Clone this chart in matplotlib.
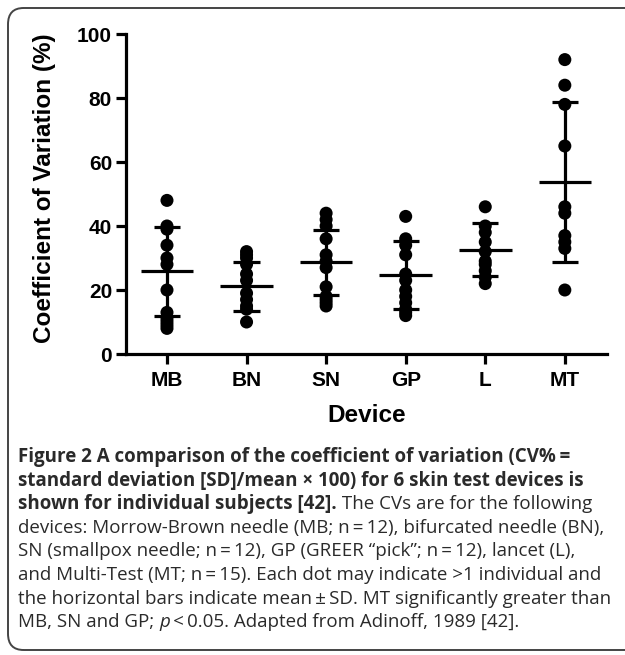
"""Coefficient of variation per skin test device (dot plot with mean +/- SD) plus figure caption."""
import numpy as np
import matplotlib
matplotlib.use("Agg")
import matplotlib.pyplot as plt
from matplotlib.patches import FancyBboxPatch

W, H = 625, 655
DEVICES = ["MB", "BN", "SN", "GP", "L", "MT"]
CV_MB = [48, 40, 39, 34, 30, 28, 20, 13, 11, 10, 9, 8]
CV_BN = [32, 31, 30, 28, 25, 23, 19, 17, 15, 14, 10]
CV_SN = [44, 42, 40, 36, 31, 29, 27, 21, 18, 17, 16, 15]
CV_GP = [43, 36, 34, 31, 25, 23, 20, 18, 16, 14, 13, 12]
CV_L = [46, 40, 38, 35, 32, 29, 28, 26, 24, 22]
CV_MT = [92, 84, 78, 65, 46, 44, 37, 35, 33, 20]
MEANS = [25.8, 21.1, 28.6, 24.6, 32.6, 53.6]
SDS = [13.9, 7.6, 10.3, 10.6, 8.3, 25.0]
YTICKS = [0, 20, 40, 60, 80, 100]

B, N, I = "bold", "normal", "italic"
CAPTION = [
    [("Figure 2 A comparison of the coefficient of variation (CV%\u2009=", B)],
    [("standard deviation [SD]/mean \u00d7 100) for 6 skin test devices is", B)],
    [("shown for individual subjects [42].", B), (" The CVs are for the following", N)],
    [("devices: Morrow-Brown needle (MB; n\u2009=\u200912), bifurcated needle (BN),", N)],
    [("SN (smallpox needle; n\u2009=\u200912), GP (GREER \u201cpick\u201d; n\u2009=\u200912), lancet (L),", N)],
    [("and Multi-Test (MT; n\u2009=\u200915). Each dot may indicate >1 individual and", N)],
    [("the horizontal bars indicate mean\u2009\u00b1\u2009SD. MT significantly greater than", N)],
    [("MB, SN and GP; ", N), ("p", I), ("\u2009<\u20090.05. Adapted from Adinoff, 1989 [42].", N)],
]

INK = "#000000"
CAP_INK = "#2a2a2a"
CAP_FONT = ["Open Sans", "DejaVu Sans"]
LW = 2.3

fig = plt.figure(figsize=(W / 100, H / 100), dpi=100)
fig.patch.set_facecolor("white")

box = FancyBboxPatch((8 / W, 5 / H), 640 / W, 642 / H, boxstyle="round,pad=0,rounding_size=0.025",
                     transform=fig.transFigure, facecolor="none", edgecolor="#444444", lw=1.4)
fig.patches.append(box)

ax = fig.add_axes([126 / W, (H - 354) / H, 481 / W, 320 / H])
series = [CV_MB, CV_BN, CV_SN, CV_GP, CV_L, CV_MT]
for i, vals in enumerate(series):
    m, sd = MEANS[i], SDS[i]
    ax.plot([i, i], [m - sd, m + sd], color=INK, lw=LW, zorder=2, solid_capstyle="butt")
    ax.plot([i - 0.33, i + 0.33], [m, m], color=INK, lw=LW, zorder=4, solid_capstyle="butt")
    for e in (m - sd, m + sd):
        ax.plot([i - 0.165, i + 0.165], [e, e], color=INK, lw=LW, zorder=4, solid_capstyle="butt")
    ax.scatter(np.full(len(vals), i), vals, s=88, color=INK, edgecolors="none", zorder=3)

ax.set_xlim(-0.515, 5.53)
ax.set_ylim(0, 100)
ax.set_xticks(range(len(DEVICES)))
ax.set_xticklabels(DEVICES)
ax.set_yticks(YTICKS)
for sp in ("top", "right"):
    ax.spines[sp].set_visible(False)
for sp in ("left", "bottom"):
    ax.spines[sp].set_linewidth(LW)
ax.tick_params(axis="both", width=LW, length=7, color=INK, labelcolor=INK)
ax.tick_params(axis="y", pad=3)
ax.tick_params(axis="x", pad=5)
for lab in ax.get_xticklabels() + ax.get_yticklabels():
    lab.set_fontfamily("Liberation Sans")
    lab.set_fontweight("bold")
    lab.set_fontsize(15)

fig.text(45 / W, 1 - 188 / H, "Coefficient of Variation (%)", rotation=90, ha="center", va="center",
         family="Liberation Sans", weight="bold", fontsize=17.5, color=INK)
fig.text(367 / W, 1 - 416 / H, "Device", ha="center", va="center",
         family="Liberation Sans", weight="bold", fontsize=17.5, color=INK)

# caption: size it so the long plain line spans the box, then lay segments out one after another
fig.canvas.draw()
rend = fig.canvas.get_renderer()
probe = fig.text(0, 0, CAPTION[3][0][0], fontsize=10, family=CAP_FONT)
fs = 10 * 585 / probe.get_window_extent(renderer=rend).width
probe.remove()

y0, step = 457, 23.6
for k, segs in enumerate(CAPTION):
    x = 18
    y = y0 + k * step
    for txt, kind in segs:
        t = fig.text(x / W, 1 - y / H, txt, ha="left", va="center", fontsize=fs,
                     family=CAP_FONT, color=CAP_INK,
                     weight="bold" if kind == B else "normal",
                     style="italic" if kind == I else "normal")
        x += t.get_window_extent(renderer=rend).width

fig.savefig("out.png", dpi=100, facecolor="white")
